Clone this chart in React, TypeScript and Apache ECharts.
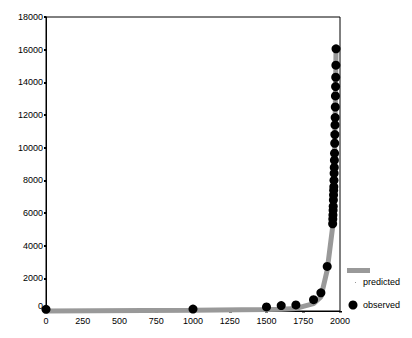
import React, { useEffect, useRef } from "react";
import * as echarts from "echarts";

// Observed values (year, value)
const observedYears = [
  0, 1000, 1500, 1600, 1700, 1820, 1870, 1913,
  1950, 1951, 1952, 1953, 1954, 1955, 1956, 1957, 1958, 1959, 1960, 1961,
  1962, 1963, 1964, 1965, 1966, 1967, 1968, 1969, 1970, 1971, 1972, 1973,
];
const observedValues = [
  105, 120, 248, 331, 371, 694, 1110, 2730,
  5340, 5630, 5880, 6170, 6410, 6800, 7100, 7390, 7610, 8000, 8430, 8790,
  9230, 9660, 10270, 10800, 11390, 11840, 12490, 13170, 13740, 14310, 15050, 16050,
];
// Predicted values at the same years
const predictedValues = [
  0, 40, 90, 110, 160, 450, 860, 2500,
  5150, 5400, 5650, 5950, 6250, 6600, 6900, 7250, 7600, 7950, 8350, 8750,
  9200, 9650, 10150, 10700, 11250, 11850, 12450, 13100, 13800, 14500, 15250, 16100,
];

const yTicks = { min: 0, max: 18000, interval: 2000 };
const xTicks = { min: 0, max: 2000, interval: 250 };

const FONT = "Arial, 'Liberation Sans', sans-serif";

export default function App() {
  const ref = useRef<HTMLDivElement>(null);
  useEffect(() => {
    if (!ref.current) return;
    const chart = echarts.init(ref.current, undefined, { renderer: "svg" });
    const obs = observedYears.map((y, i) => [y, observedValues[i]]);
    const pred = observedYears.map((y, i) => [y, predictedValues[i]]);
    chart.setOption({
      animation: false,
      backgroundColor: "#ffffff",
      grid: {
        left: 46,
        right: 72,
        top: 17,
        bottom: 27,
        show: true,
        borderColor: "#000",
        borderWidth: 1,
        backgroundColor: "transparent",
      },
      xAxis: {
        type: "value",
        min: xTicks.min,
        max: xTicks.max,
        interval: xTicks.interval,
        splitLine: { show: false },
        axisLine: { show: true, lineStyle: { color: "#000", width: 1 } },
        axisTick: { show: true, length: 1.5, lineStyle: { color: "#000", width: 3 } },
        axisLabel: {
          color: "#000",
          fontSize: 9,
          fontFamily: FONT,
          margin: 5,
          formatter: (v: number) => String(v),
        },
      },
      yAxis: {
        type: "value",
        min: yTicks.min,
        max: yTicks.max,
        interval: yTicks.interval,
        splitLine: { show: false },
        axisLine: { show: true, lineStyle: { color: "#000", width: 1 } },
        axisTick: { show: true, length: 2, lineStyle: { color: "#000", width: 2 } },
        axisLabel: {
          color: "#000",
          fontSize: 9,
          fontFamily: FONT,
          margin: 3,
          formatter: (v: number) => (v === 0 ? "{z|0}" : String(v)),
          rich: { z: { fontSize: 9, fontFamily: FONT, color: "#000", padding: [0, 0, 10, 0] } },
        },
      },
      series: [
        {
          name: "predicted",
          type: "line",
          data: pred,
          showSymbol: false,
          symbol: "none",
          lineStyle: { color: "#999999", width: 5 },
          clip: false,
          z: 2,
        },
        {
          name: "observed",
          type: "scatter",
          data: obs,
          symbol: "circle",
          symbolSize: 9,
          itemStyle: { color: "#000", opacity: 1 },
          clip: false,
          z: 3,
        },
      ],
      graphic: [
        { type: "rect", shape: { x: 347, y: 268, width: 23, height: 5 }, style: { fill: "#999999" } },
        { type: "rect", shape: { x: 355, y: 282, width: 1, height: 1 }, style: { fill: "#999999" } },
        {
          type: "text",
          x: 363,
          y: 282,
          style: { text: "predicted", fill: "#000", font: `9px ${FONT}`, textVerticalAlign: "middle" },
        },
        { type: "circle", shape: { cx: 353, cy: 305, r: 4.5 }, style: { fill: "#000" } },
        {
          type: "text",
          x: 363,
          y: 305,
          style: { text: "observed", fill: "#000", font: `9px ${FONT}`, textVerticalAlign: "middle" },
        },
      ],
    });
    return () => chart.dispose();
  }, []);
  return <div ref={ref} style={{ width: 412, height: 338, position: "absolute", left: 0, top: 0 }} />;
}
